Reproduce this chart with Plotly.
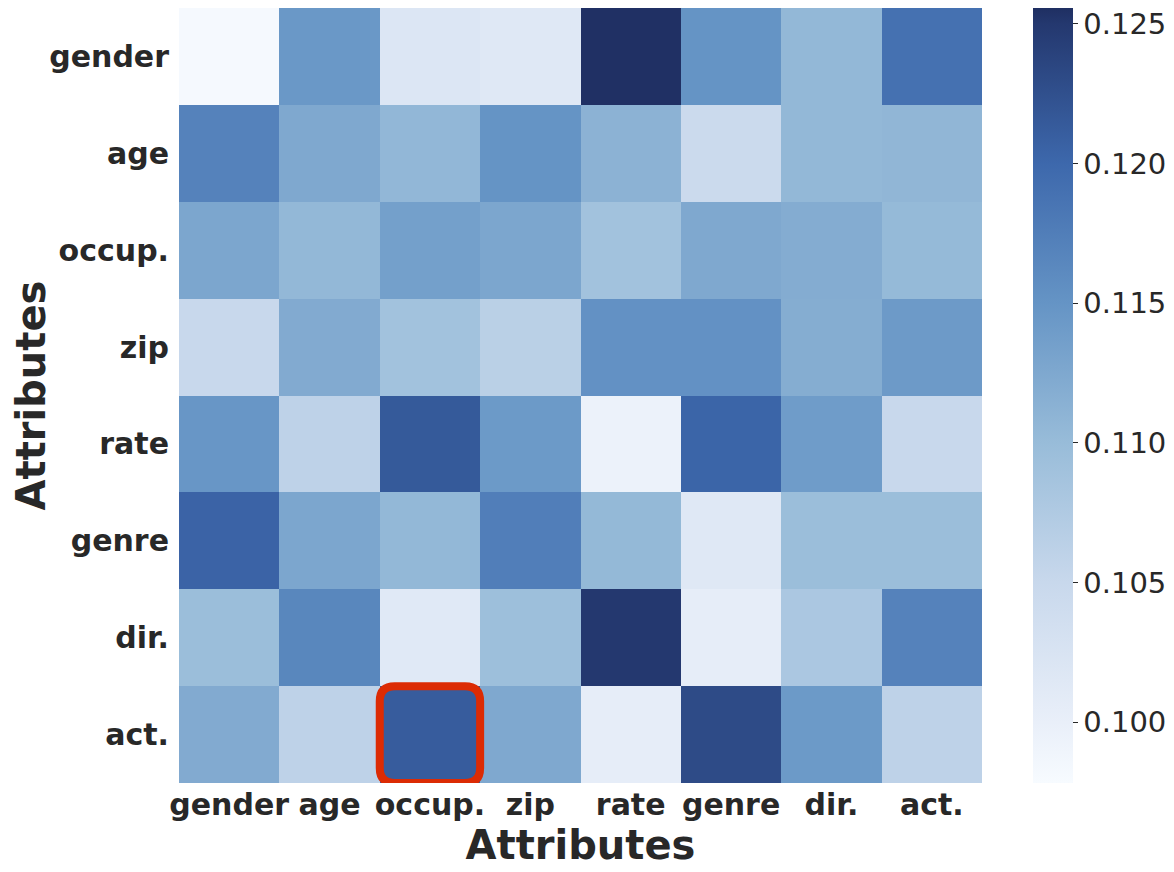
import plotly.graph_objects as go

attributes = ["gender", "age", "occup.", "zip", "rate", "genre", "dir.", "act."]

# rows: gender, age, occup., zip, rate, genre, dir., act.
row_gender = [0.0981, 0.1145, 0.1020, 0.1015, 0.1255, 0.1150, 0.1105, 0.1190]
row_age    = [0.1170, 0.1125, 0.1106, 0.1150, 0.1112, 0.1045, 0.1105, 0.1107]
row_occup  = [0.1127, 0.1105, 0.1135, 0.1127, 0.1090, 0.1125, 0.1120, 0.1103]
row_zip    = [0.1050, 0.1122, 0.1090, 0.1065, 0.1153, 0.1153, 0.1119, 0.1142]
row_rate   = [0.1147, 0.1060, 0.1215, 0.1143, 0.0995, 0.1203, 0.1140, 0.1050]
row_genre  = [0.1205, 0.1127, 0.1105, 0.1175, 0.1104, 0.1015, 0.1097, 0.1097]
row_dir    = [0.1097, 0.1165, 0.1013, 0.1095, 0.1250, 0.1005, 0.1080, 0.1170]
row_act    = [0.1122, 0.1060, 0.1212, 0.1125, 0.1005, 0.1230, 0.1143, 0.1060]

z_rows = [row_gender, row_age, row_occup, row_zip, row_rate, row_genre, row_dir, row_act]

z_min = 0.09782
z_max = 0.12557
colorbar_ticks = [0.100, 0.105, 0.110, 0.115, 0.120, 0.125]

highlight_col = 2  # occup.
highlight_row = 7  # act.

def norm(v):
    return (v - z_min) / (z_max - z_min)

colorscale = [
    [0.0, "#f7fbff"],
    [norm(0.100), "#e9eff9"],
    [norm(0.105), "#c8d8ec"],
    [norm(0.110), "#98bcd9"],
    [norm(0.115), "#6594c5"],
    [norm(0.120), "#3d68ac"],
    [norm(0.125), "#24386f"],
    [1.0, "#1f2f62"],
]

idx = list(range(len(attributes)))
text_color = "#282828"
font_family = "DejaVu Sans"

fig = go.Figure(
    go.Heatmap(
        z=z_rows,
        x=idx,
        y=idx,
        zmin=z_min,
        zmax=z_max,
        colorscale=colorscale,
        colorbar=dict(
            x=1.0635,
            xanchor="left",
            xref="paper",
            xpad=0,
            ypad=0,
            y=0.5,
            yanchor="middle",
            len=1.0,
            lenmode="fraction",
            thickness=40,
            outlinewidth=0,
            ticks="outside",
            ticklen=5,
            tickwidth=1,
            tickcolor=text_color,
            tickvals=colorbar_ticks,
            ticktext=[f"{v:.3f}" for v in colorbar_ticks],
            ticklabeloverflow="allow",
            tickfont=dict(family=font_family, size=29, color=text_color),
        ),
        hoverongaps=False,
    )
)

# rounded highlight rectangle around the selected cell
x0, x1 = highlight_col - 0.5, highlight_col + 0.5
y0, y1 = highlight_row - 0.5, highlight_row + 0.5
rx, ry = 0.15, 0.155
path = (
    f"M {x0 + rx},{y0} L {x1 - rx},{y0} Q {x1},{y0} {x1},{y0 + ry} "
    f"L {x1},{y1 - ry} Q {x1},{y1} {x1 - rx},{y1} "
    f"L {x0 + rx},{y1} Q {x0},{y1} {x0},{y1 - ry} "
    f"L {x0},{y0 + ry} Q {x0},{y0} {x0 + rx},{y0} Z"
)
fig.add_shape(type="path", path=path, xref="x", yref="y",
              line=dict(color="#dc2b04", width=8), layer="above")

fig.update_layout(
    width=1166,
    height=864,
    margin=dict(l=171, r=192, t=0, b=89, autoexpand=False),
    paper_bgcolor="white",
    plot_bgcolor="white",
    font=dict(family=font_family, color=text_color),
    xaxis=dict(
        tickvals=idx,
        ticktext=attributes,
        tickfont=dict(family=font_family, size=30, color=text_color, weight="bold"),
        ticks="",
        ticklabelstandoff=1,
        showgrid=False,
        zeroline=False,
        range=[-0.5, len(attributes) - 0.5],
        title=dict(text="Attributes", font=dict(family=font_family, size=40, color=text_color, weight="bold"), standoff=0),
    ),
    yaxis=dict(
        tickvals=idx,
        ticktext=attributes,
        tickfont=dict(family=font_family, size=30, color=text_color, weight="bold"),
        ticks="",
        ticklabelstandoff=9,
        showgrid=False,
        zeroline=False,
        range=[len(attributes) - 0.5, -0.5],
        title=dict(text="Attributes", font=dict(family=font_family, size=40, color=text_color, weight="bold"), standoff=9),
    ),
)

fig.write_html("out.html")
